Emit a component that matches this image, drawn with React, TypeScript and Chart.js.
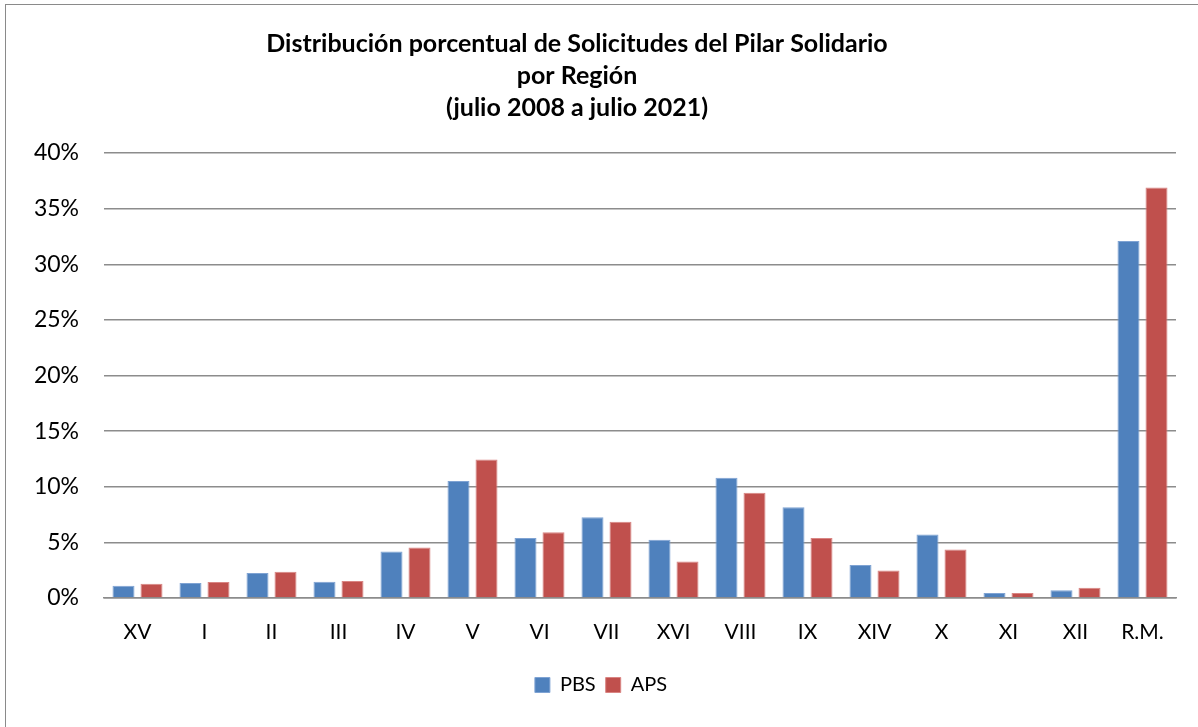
import React, { useEffect, useRef } from "react";
import { Chart, registerables } from "chart.js";

Chart.register(...registerables);

const categories = ["XV", "I", "II", "III", "IV", "V", "VI", "VII", "XVI", "VIII", "IX", "XIV", "X", "XI", "XII", "R.M."];
const pbsValues = [1.1, 1.35, 2.25, 1.47, 4.19, 10.52, 5.4, 7.25, 5.24, 10.82, 8.15, 2.97, 5.71, 0.45, 0.69, 32.1];
const apsValues = [1.29, 1.44, 2.37, 1.53, 4.55, 12.44, 5.9, 6.86, 3.29, 9.47, 5.4, 2.48, 4.35, 0.45, 0.93, 36.9];
const titleLines = [
  "Distribución porcentual de Solicitudes del Pilar Solidario",
  "por Región",
  "(julio 2008 a julio 2021)",
];
const seriesNames = ["PBS", "APS"];

const FONT = "Lato, 'Open Sans', sans-serif";

const titlePlugin = {
  id: "customTitle",
  afterDraw(chart: any) {
    const ctx = chart.ctx;
    ctx.save();
    ctx.fillStyle = "#000";
    ctx.font = `bold 25px ${FONT}`;
    ctx.textAlign = "center";
    ctx.textBaseline = "middle";
    const ys = [39, 71, 103];
    titleLines.forEach((t, i) => ctx.fillText(t, 571, ys[i]));
    ctx.restore();
  },
};

export default function App() {
  const ref = useRef<HTMLCanvasElement>(null);
  useEffect(() => {
    if (!ref.current) return;
    const chart = new Chart(ref.current, {
      type: "bar",
      data: {
        labels: categories,
        datasets: [
          {
            label: seriesNames[0],
            data: pbsValues,
            backgroundColor: "#4F81BD",
            borderColor: "#7fa3d3",
            borderWidth: 1,
            categoryPercentage: 0.836,
            barPercentage: 0.786,
          },
          {
            label: seriesNames[1],
            data: apsValues,
            backgroundColor: "#C0504D",
            borderColor: "#d98583",
            borderWidth: 1,
            categoryPercentage: 0.836,
            barPercentage: 0.786,
          },
        ],
      },
      options: {
        animation: false,
        responsive: false,
        layout: { padding: { top: 148, left: 20, right: 22, bottom: 22 } },
        scales: {
          y: {
            min: 0,
            max: 40,
            ticks: {
              stepSize: 5,
              color: "#000",
              font: { size: 23, family: FONT },
              padding: 25,
              callback: (v: any) => v + "%",
            },
            grid: { color: "#8c8c8c", lineWidth: 1.5, drawTicks: false },
            border: { display: false },
            afterFit: (s: any) => {
              s.width = 78;
            },
          },
          x: {
            ticks: {
              color: "#000",
              font: { size: 21, family: FONT },
              padding: 22,
            },
            grid: { display: false, drawTicks: false },
            border: { display: true, color: "#8c8c8c", width: 1.5 },
            afterFit: (s: any) => {
              s.height = 67;
            },
          },
        },
        plugins: {
          title: { display: false },
          tooltip: { enabled: false },
          legend: {
            position: "bottom",
            labels: {
              boxWidth: 15,
              boxHeight: 15,
              padding: 10,
              color: "#000",
              font: { size: 20, family: FONT },
            },
          },
        },
      },
      plugins: [titlePlugin],
    });
    return () => chart.destroy();
  }, []);
  return (
    <div
      style={{
        position: "absolute",
        left: 5,
        top: 4,
        width: 1192,
        height: 722,
        borderLeft: "1px solid #8a8a8a",
        borderTop: "1px solid #8a8a8a",
        background: "#fff",
        overflow: "hidden",
      }}
    >
      <canvas ref={ref} width={1192} height={722} style={{ display: "block" }} />
    </div>
  );
}
